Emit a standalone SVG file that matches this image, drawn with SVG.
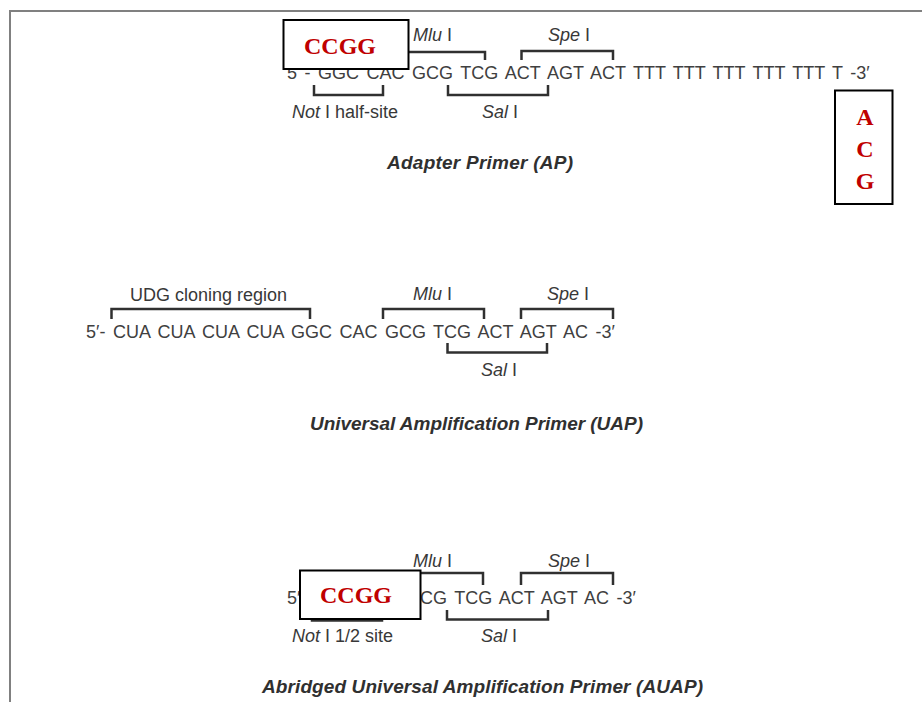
<svg xmlns="http://www.w3.org/2000/svg" width="922" height="702" viewBox="0 0 922 702">
<style>
.seq{font-family:"Liberation Sans",Arial,sans-serif;font-size:18px;fill:#404040;word-spacing:2.5px}
.lbl{font-family:"Liberation Sans",Arial,sans-serif;font-size:18px;fill:#383838}
.it{font-style:italic}
.title{font-family:"Liberation Sans",Arial,sans-serif;font-size:19px;font-weight:bold;font-style:italic;fill:#303030}
.br{fill:none;stroke:#303030;stroke-width:2.5}
.box{fill:#fff;stroke:#000;stroke-width:2}
.red{font-family:"Liberation Serif","Times New Roman",serif;font-size:24px;font-weight:bold;fill:#c00000}
.frame{fill:none;stroke:#808080;stroke-width:2}
</style>
<rect x="0" y="0" width="922" height="702" fill="#fff"/>
<path class="frame" d="M10,702 V11 H922"/>

<g id="ap">
<text class="seq" x="287" y="79">5 - GGC CAC GCG TCG ACT AGT ACT TTT TTT TTT TTT TTT T -3′</text>
<text class="lbl" x="413" y="41"><tspan class="it">Mlu</tspan> I</text>
<text class="lbl" x="548" y="41"><tspan class="it">Spe</tspan> I</text>
<text class="lbl" x="292" y="118"><tspan class="it">Not</tspan> I half-site</text>
<text class="lbl" x="482" y="118"><tspan class="it">Sal</tspan> I</text>
<text class="title" x="387" y="169" textLength="186" lengthAdjust="spacing">Adapter Primer (AP)</text>
</g>

<g id="uap">
<text class="seq" x="86" y="338">5′- CUA CUA CUA CUA GGC CAC GCG TCG ACT AGT AC -3′</text>
<text class="lbl" x="130" y="301">UDG cloning region</text>
<text class="lbl" x="413" y="300"><tspan class="it">Mlu</tspan> I</text>
<text class="lbl" x="547" y="300"><tspan class="it">Spe</tspan> I</text>
<text class="lbl" x="481" y="376"><tspan class="it">Sal</tspan> I</text>
<text class="title" x="310" y="430" textLength="333" lengthAdjust="spacing">Universal Amplification Primer  (UAP)</text>
</g>

<g id="auap">
<text class="seq" x="287" y="604">5′</text>
<text class="seq" x="420" y="604">CG TCG ACT AGT AC -3′</text>
<text class="lbl" x="413" y="567"><tspan class="it">Mlu</tspan> I</text>
<text class="lbl" x="548" y="567"><tspan class="it">Spe</tspan> I</text>
<text class="lbl" x="292" y="642"><tspan class="it">Not</tspan> I 1/2 site</text>
<text class="lbl" x="481" y="642"><tspan class="it">Sal</tspan> I</text>
<text class="title" x="262" y="693" textLength="441" lengthAdjust="spacing">Abridged Universal Amplification Primer (AUAP)</text>
</g>

<g id="connectors">
<path class="br" d="M400,52 H485 V60"/>
<path class="br" d="M521.5,60 V51 H613 V60"/>
<path class="br" d="M448,85 V95 H548 V85"/>
<path class="br" d="M314,85 V95 H383 V85"/>
<path class="br" d="M111.5,319 V309 H310 V319"/>
<path class="br" d="M383,319 V309 H484 V319"/>
<path class="br" d="M521,319 V309 H613 V319"/>
<path class="br" d="M447.5,343 V352.5 H547 V343"/>
<path class="br" d="M410,573 H483 V585"/>
<path class="br" d="M521,585 V573 H613 V585"/>
<path class="br" d="M447,610 V619.5 H548 V610"/>
<path class="br" d="M312,610 V620.5 H382 V610"/>
</g>

<g id="box-ap">
<rect class="box" x="283.5" y="20" width="125" height="49"/>
<text class="red" x="340" y="54" text-anchor="middle">CCGG</text>
</g>
<g id="box-acg">
<rect class="box" x="835" y="90.5" width="57.5" height="113.5"/>
<text class="red" x="865" y="125" text-anchor="middle">A</text>
<text class="red" x="865" y="157" text-anchor="middle">C</text>
<text class="red" x="865" y="189" text-anchor="middle">G</text>
</g>
<g id="box-auap">
<rect class="box" x="300" y="570.5" width="120.5" height="48.5"/>
<text class="red" x="356" y="603" text-anchor="middle">CCGG</text>
</g>
</svg>
